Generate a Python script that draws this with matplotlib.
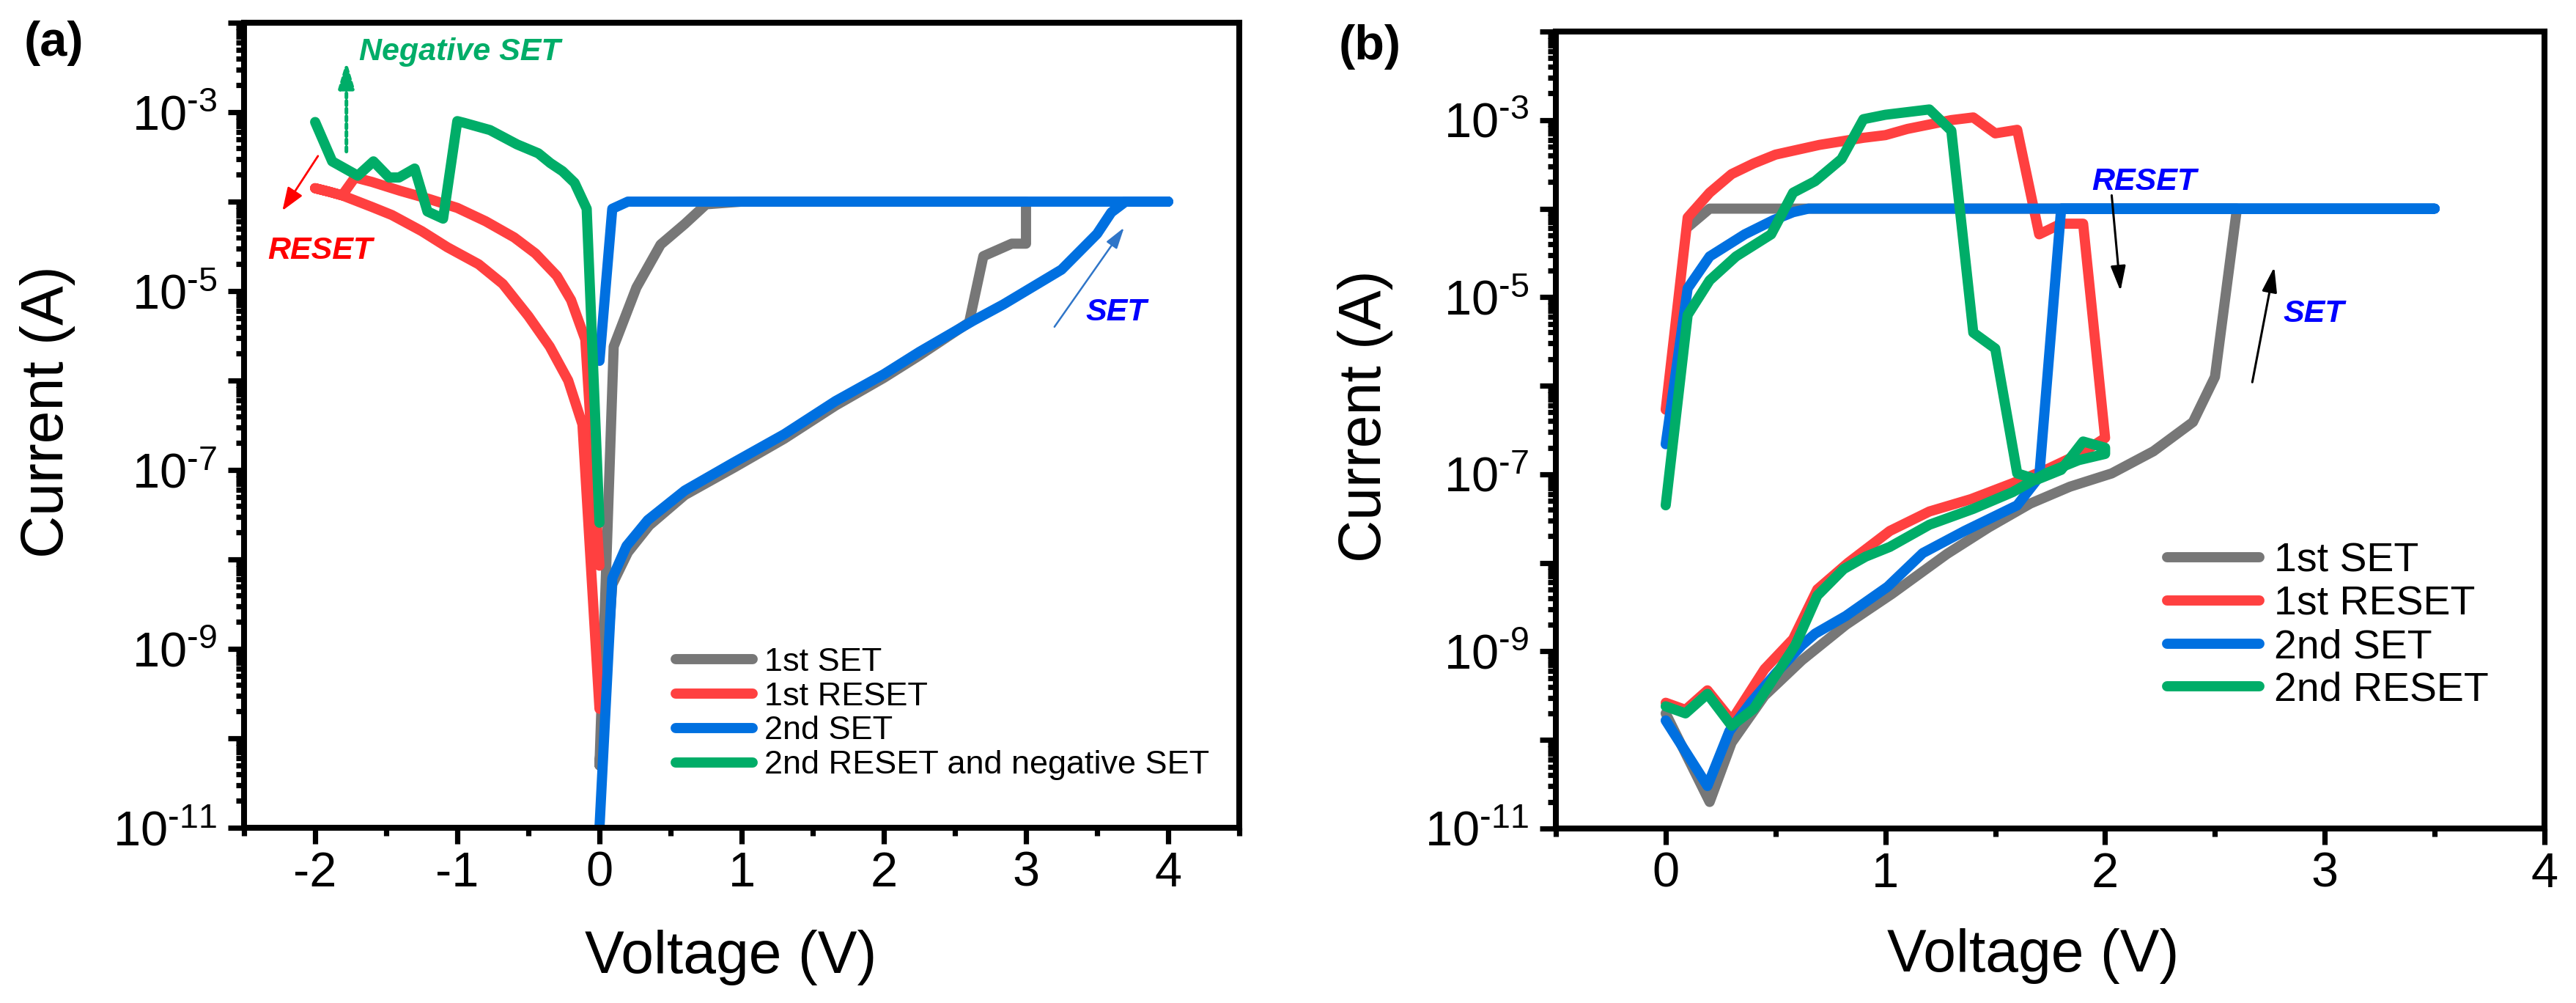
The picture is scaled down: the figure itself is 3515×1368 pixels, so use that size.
import numpy as np
import matplotlib
matplotlib.use('Agg')
import matplotlib.pyplot as plt
from matplotlib.ticker import FixedLocator, FuncFormatter, LogLocator, MultipleLocator

plt.rcParams['font.family'] = ['Liberation Sans', 'DejaVu Sans']
plt.rcParams['mathtext.fontset'] = 'custom'
plt.rcParams['mathtext.rm'] = 'Liberation Sans'
plt.rcParams['mathtext.it'] = 'Liberation Sans:italic'
plt.rcParams['mathtext.bf'] = 'Liberation Sans:bold'
plt.rcParams['axes.unicode_minus'] = False

# ---------------- data (voltage in V, log10 of current in A) ----------------
# panel (a)
a_set1_V = [0, 0.09, 0.2, 0.35, 0.6, 0.95, 1.3, 1.66, 2.0, 2.25, 2.6, 2.7, 2.9, 3.0, 3.0,
            2.0, 1.0, 0.75, 0.6, 0.43, 0.26, 0.1, 0]
a_set1_logI = [-10.3, -8.28, -7.92, -7.62, -7.28, -6.97, -6.65, -6.28, -5.97, -5.72, -5.35,
               -4.61, -4.47, -4.47, -4.0, -4.0, -4.0, -4.03, -4.25, -4.48, -4.96, -5.62, -10.3]

a_reset1_V = [0, -0.1, -0.2, -0.3, -0.45, -0.6, -0.8, -1.0, -1.2, -1.4, -1.6, -1.72, -1.81,
              -1.9, -2.0, -1.9, -1.81, -1.6, -1.46, -1.25, -1.07, -0.85, -0.68, -0.5, -0.35,
              -0.22, -0.12, 0]
a_reset1_logI = [-8.07, -5.54, -5.1, -4.83, -4.58, -4.4, -4.22, -4.07, -3.97, -3.88, -3.78,
                 -3.73, -3.93, -3.89, -3.85, -3.89, -3.93, -4.06, -4.15, -4.33, -4.51, -4.7,
                 -4.92, -5.28, -5.62, -6.0, -6.49, -9.67]

a_set2_V = [0, 0.09, 0.19, 0.34, 0.6, 0.94, 1.3, 1.66, 2.0, 2.25, 2.63, 2.84, 3.25, 3.5, 3.6,
            3.7, 4.0, 0.2, 0.09, 0]
a_set2_logI = [-11.0, -8.21, -7.85, -7.56, -7.23, -6.92, -6.6, -6.23, -5.93, -5.68, -5.33,
               -5.15, -4.76, -4.36, -4.12, -4.0, -4.0, -4.0, -4.08, -5.78]

a_reset2_V = [0, -0.09, -0.175, -0.26, -0.345, -0.43, -0.58, -0.77, -0.95, -1.0, -1.1, -1.21,
              -1.3, -1.41, -1.48, -1.59, -1.7, -1.88, -2.0]
a_reset2_logI = [-7.59, -4.08, -3.79, -3.66, -3.57, -3.46, -3.36, -3.2, -3.12, -3.1, -4.19,
                 -4.11, -3.63, -3.73, -3.73, -3.55, -3.71, -3.55, -3.11]

# panel (b)
b_set1_V = [0, 0.2, 0.3, 0.45, 0.62, 0.72, 0.82, 1.03, 1.28, 1.47, 1.66, 1.84, 2.03, 2.22,
            2.4, 2.5, 2.6, 0.2, 0.1]
b_set1_logI = [-9.7, -10.7, -10.03, -9.5, -9.1, -8.9, -8.7, -8.35, -7.9, -7.6, -7.33, -7.14,
               -6.99, -6.74, -6.41, -5.9, -4.0, -4.0, -4.21]

b_reset1_V = [0, 0.1, 0.2, 0.3, 0.4, 0.5, 0.7, 0.9, 1.0, 1.1, 1.2, 1.3, 1.4, 1.5, 1.6, 1.7,
              1.8, 1.9, 2.0, 1.9, 1.73, 1.58, 1.39, 1.2, 1.02, 0.83, 0.69, 0.58, 0.45, 0.3,
              0.19, 0.09, 0]
b_reset1_logI = [-6.27, -4.1, -3.82, -3.61, -3.49, -3.39, -3.28, -3.2, -3.17, -3.1, -3.05,
                 -3.0, -2.97, -3.15, -3.11, -4.29, -4.17, -4.17, -6.59, -6.75, -6.95, -7.1,
                 -7.28, -7.42, -7.64, -8.0, -8.3, -8.86, -9.2, -9.78, -9.44, -9.66, -9.58]

b_set2_V = [0, 0.19, 0.29, 0.39, 0.5, 0.62, 0.68, 0.82, 1.01, 1.17, 1.36, 1.6, 1.7, 1.8, 3.5,
            0.65, 0.58, 0.49, 0.36, 0.2, 0.1, 0]
b_set2_logI = [-9.78, -10.52, -9.9, -9.57, -9.25, -8.93, -8.8, -8.6, -8.27, -7.89, -7.64,
               -7.35, -7.03, -4.0, -4.0, -4.0, -4.04, -4.13, -4.29, -4.54, -4.9, -6.66]

b_reset2_V = [0, 0.1, 0.2, 0.32, 0.48, 0.58, 0.68, 0.8, 0.9, 1.0, 1.1, 1.2, 1.3, 1.4, 1.5,
              1.6, 1.69, 1.8, 1.9, 2.0, 2.0, 1.88, 1.73, 1.58, 1.4, 1.2, 1.02, 0.91, 0.81,
              0.69, 0.59, 0.4, 0.3, 0.19, 0.09, 0]
b_reset2_logI = [-7.35, -5.2, -4.81, -4.54, -4.29, -3.82, -3.69, -3.44, -2.99, -2.94, -2.91,
                 -2.88, -3.12, -5.4, -5.58, -6.99, -7.06, -6.95, -6.63, -6.7, -6.77, -6.84,
                 -6.99, -7.2, -7.39, -7.57, -7.82, -7.93, -8.07, -8.37, -8.93, -9.65, -9.84,
                 -9.48, -9.7, -9.62]

labels_a = ['1st SET', '1st RESET', '2nd SET', '2nd RESET and negative SET']
labels_b = ['1st SET', '1st RESET', '2nd SET', '2nd RESET']
colors = ['#777777', '#ff4040', '#0070e0', '#00ad68']

# ---------------- figure ----------------
W, H = 3516, 1368
fig = plt.figure(figsize=(W / 200, H / 200), dpi=200)
ax_a = fig.add_axes([333 / W, 1 - 1129 / H, (1691 - 333) / W, (1129 - 31) / H])
ax_b = fig.add_axes([2123 / W, 1 - 1130 / H, (3472 - 2123) / W, (1130 - 43) / H])

LW = 5.0


def fmt_log(y, pos):
    e = int(round(np.log10(y)))
    if e % 2 == 0:
        return ''
    return '$\\mathregular{10^{\u2010%d}}$' % abs(e)


def style(ax, xlim):
    ax.set_yscale('log')
    ax.set_ylim(1e-11, 1e-2)
    ax.set_xlim(*xlim)
    ax.xaxis.set_major_locator(MultipleLocator(1))
    ax.xaxis.set_minor_locator(MultipleLocator(0.5))
    ax.yaxis.set_major_locator(FixedLocator([10.0 ** k for k in range(-11, -1)]))
    ax.yaxis.set_minor_locator(LogLocator(base=10, subs=np.arange(2, 10), numticks=100))
    ax.yaxis.set_major_formatter(FuncFormatter(fmt_log))
    ax.yaxis.set_minor_formatter(FuncFormatter(lambda y, p: ''))
    ax.tick_params(which='both', direction='out', top=False, right=False, width=2.6,
                   labelsize=24)
    ax.tick_params(which='major', length=7.9)
    ax.tick_params(which='minor', length=4.0)
    ax.tick_params(axis='y', pad=5.4)
    ax.tick_params(axis='x', pad=3.6)
    for s in ax.spines.values():
        s.set_linewidth(2.9)


def draw(ax, curves, labels):
    for (V, L), lab, c in zip(curves, labels, colors):
        ax.plot(V, 10.0 ** np.asarray(L), color=c, lw=LW, label=lab,
                solid_joinstyle='round', solid_capstyle='round')


style(ax_a, (-2.5, 4.5))
style(ax_b, (-0.5, 4.0))

draw(ax_a, [(a_set1_V, a_set1_logI), (a_reset1_V, a_reset1_logI),
            (a_set2_V, a_set2_logI), (a_reset2_V, a_reset2_logI)], labels_a)
draw(ax_b, [(b_set1_V, b_set1_logI), (b_reset1_V, b_reset1_logI),
            (b_set2_V, b_set2_logI), (b_reset2_V, b_reset2_logI)], labels_b)

# legends
leg_a = ax_a.legend(loc='center left', bbox_to_anchor=(0.4337, 0.1416), frameon=False,
                    fontsize=16.2, borderpad=0, borderaxespad=0, handlelength=2.33,
                    handletextpad=0.36, labelspacing=0.13)
leg_b = ax_b.legend(loc='center left', bbox_to_anchor=(0.618, 0.254), frameon=False,
                    fontsize=20, borderpad=0, borderaxespad=0, handlelength=2.27,
                    handletextpad=0.36, labelspacing=0.12)
for leg in (leg_a, leg_b):
    for ln in leg.get_lines():
        ln.set_linewidth(5.0)
        ln.set_solid_capstyle('round')

# axis labels
for ax, xl, yl, xx in ((ax_a, -0.1266, -0.1694, 0.489), (ax_b, -0.125, -0.1646, 0.4826)):
    ax.set_xlabel('Voltage (V)', fontsize=29)
    ax.set_ylabel('Current (A)', fontsize=29)
    ax.xaxis.set_label_coords(xx, xl)
    ax.yaxis.set_label_coords(yl, 0.517)

fig.text(33 / W, 1 - 28 / H, '(a)', fontsize=24, fontweight='bold', va='top', ha='left')
fig.text(1827 / W, 1 - 33 / H, '(b)', fontsize=24, fontweight='bold', va='top', ha='left')

# annotations panel (a)
ann = dict(fontsize=15.5, fontweight='bold', style='italic', ha='left', va='baseline')
ax_a.text(-1.69, 10 ** -2.42, 'Negative SET', color='#00ad68', **ann)
ax_a.text(-2.335, 10 ** -4.64, 'RESET', color='#ff0000', **ann)
ax_a.text(3.42, 10 ** -5.33, 'SET', color='#0000ff', **ann)
ax_a.annotate('', xy=(-1.78, 10 ** -2.43), xytext=(-1.78, 10 ** -3.44),
              arrowprops=dict(arrowstyle='-|>,head_length=0.4,head_width=0.12',
                              mutation_scale=27, lw=1.8, ls=(0, (1.2, 0.9)),
                              color='#00ad68', shrinkA=0, shrinkB=0))
ax_a.annotate('', xy=(-2.23, 10 ** -4.10), xytext=(-1.98, 10 ** -3.49),
              arrowprops=dict(arrowstyle='-|>,head_length=0.4,head_width=0.15',
                              mutation_scale=24, lw=1.0, color='#ff0000',
                              shrinkA=0, shrinkB=0))
ax_a.annotate('', xy=(3.69, 10 ** -4.29), xytext=(3.2, 10 ** -5.40),
              arrowprops=dict(arrowstyle='-|>,head_length=0.4,head_width=0.12',
                              mutation_scale=22, lw=0.9, color='#2f75c8',
                              shrinkA=0, shrinkB=0))

# annotations panel (b)
ax_b.text(1.94, 10 ** -3.79, 'RESET', color='#0000ff', **ann)
ax_b.text(2.81, 10 ** -5.28, 'SET', color='#0000ff', **ann)
ax_b.annotate('', xy=(2.07, 10 ** -4.93), xytext=(2.03, 10 ** -3.85),
              arrowprops=dict(arrowstyle='-|>,head_length=0.4,head_width=0.12',
                              mutation_scale=26, lw=1.1, color='black',
                              shrinkA=0, shrinkB=0))
ax_b.annotate('', xy=(2.77, 10 ** -4.66), xytext=(2.67, 10 ** -5.96),
              arrowprops=dict(arrowstyle='-|>,head_length=0.4,head_width=0.12',
                              mutation_scale=26, lw=1.1, color='black',
                              shrinkA=0, shrinkB=0))

fig.savefig('out.png', dpi=200)
